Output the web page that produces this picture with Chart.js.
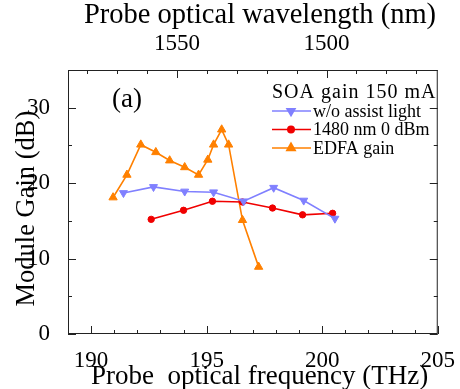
<!DOCTYPE html>
<html>
<head>
<meta charset="utf-8">
<script src="https://cdn.jsdelivr.net/npm/chart.js@4/dist/chart.umd.min.js"></script>
<style>
  html, body { margin: 0; padding: 0; background: #fff; }
  #wrap { width: 460px; height: 389px; }
</style>
</head>
<body>
<div id="wrap"><canvas id="c" width="460" height="389"></canvas></div>
<script>
// frequency (THz) / gain (dB)
const blueX = [191.4, 192.7, 194.05, 195.3, 196.6, 197.9, 199.2, 200.55];
const blueY = [18.7, 19.5, 18.9, 18.8, 17.6, 19.4, 17.7, 15.3];
const redX = [192.6, 194.0, 195.25, 196.55, 197.85, 199.15, 200.45];
const redY = [15.2, 16.4, 17.6, 17.5, 16.7, 15.8, 16.0];
const orangeX = [190.95, 191.55, 192.15, 192.8, 193.4, 194.05, 194.65, 195.05, 195.3, 195.65, 195.95, 196.55, 197.25];
const orangeY = [18.1, 21.1, 25.1, 24.1, 23.0, 22.1, 21.1, 23.1, 25.1, 27.1, 25.1, 15.1, 8.9];

const seriesNames = ['w/o assist light', '1480 nm 0 dBm', 'EDFA gain'];
const legendTitle = 'SOA gain 150 mA';
const panelLabel = '(a)';

const freqRange = [189, 205];
const wavelengthRange = [1462.8, 1586.5];
const gainRange = [0, 35];

const FONT = '"Liberation Serif", "Times New Roman", serif';

const pts = (xs, ys) => xs.map((x, i) => ({ x: x, y: ys[i] }));

// inward tick marks + frame
const frameTicks = {
  id: 'frameTicks',
  afterDraw(chart) {
    const ctx = chart.ctx;
    const a = chart.chartArea;
    const sx = chart.scales.x, st = chart.scales.xTop, sy = chart.scales.y;
    ctx.save();
    ctx.strokeStyle = '#222';
    ctx.lineWidth = 1;
    ctx.strokeRect(a.left + 0.5, a.top + 0.5, a.right - a.left - 1, a.bottom - a.top - 1);
    ctx.beginPath();
    sx.ticks.forEach(t => {
      const p = Math.round(sx.getPixelForValue(t.value)) + 0.5;
      const len = t.value % 5 === 0 ? 8 : 4;
      ctx.moveTo(p, a.bottom);
      ctx.lineTo(p, a.bottom - len);
    });
    st.ticks.forEach(t => {
      const p = Math.round(st.getPixelForValue(t.value)) + 0.5;
      const len = t.value % 50 === 0 ? 8 : 4;
      ctx.moveTo(p, a.top);
      ctx.lineTo(p, a.top + len);
    });
    sy.ticks.forEach(t => {
      const p = Math.round(sy.getPixelForValue(t.value)) + 0.5;
      const len = t.value % 10 === 0 ? 8 : 4;
      ctx.moveTo(a.left, p);
      ctx.lineTo(a.left + len, p);
      ctx.moveTo(a.right, p);
      ctx.lineTo(a.right - len, p);
    });
    ctx.stroke();
    ctx.restore();
  }
};

// legend inside the plot, drawn from the dataset styles
const innerLegend = {
  id: 'innerLegend',
  afterDraw(chart) {
    const ctx = chart.ctx;
    ctx.save();
    ctx.fillStyle = '#000';
    ctx.textBaseline = 'middle';
    ctx.font = '27px ' + FONT;
    ctx.fillText(panelLabel, 112, 100);

    ctx.font = '20px ' + FONT;
    ctx.letterSpacing = '1px';
    ctx.fillText(legendTitle, 272, 93);
    ctx.letterSpacing = '0px';
    ctx.font = '18px ' + FONT;
    chart.data.datasets.forEach((ds, i) => {
      const y = 111 + i * 18.5;
      ctx.strokeStyle = ds.borderColor;
      ctx.lineWidth = ds.borderWidth;
      ctx.beginPath();
      ctx.moveTo(272, y);
      ctx.lineTo(311, y);
      ctx.stroke();
      ctx.fillStyle = ds.pointBackgroundColor;
      ctx.strokeStyle = ds.pointBorderColor;
      Chart.helpers.drawPoint(ctx, {
        pointStyle: ds.pointStyle,
        radius: ds.pointRadius,
        rotation: ds.pointRotation || 0,
        borderWidth: 1
      }, 291, y);
      ctx.fillStyle = '#000';
      ctx.fillText(ds.label, 313, y + 1);
    });
    ctx.restore();
  }
};

new Chart(document.getElementById('c'), {
  type: 'line',
  data: {
    datasets: [
      {
        label: seriesNames[0],
        data: pts(blueX, blueY),
        borderColor: '#8080ff',
        borderWidth: 1.6,
        pointStyle: 'triangle',
        pointRotation: 180,
        pointRadius: 4.6,
        pointBackgroundColor: '#8080ff',
        pointBorderColor: '#8080ff',
        pointBorderWidth: 1
      },
      {
        label: seriesNames[1],
        data: pts(redX, redY),
        borderColor: '#f00000',
        borderWidth: 1.6,
        pointStyle: 'circle',
        pointRadius: 3.2,
        pointBackgroundColor: '#f00000',
        pointBorderColor: '#f00000',
        pointBorderWidth: 1
      },
      {
        label: seriesNames[2],
        data: pts(orangeX, orangeY),
        borderColor: '#ff8000',
        borderWidth: 1.6,
        pointStyle: 'triangle',
        pointRadius: 4.8,
        pointBackgroundColor: '#ff8000',
        pointBorderColor: '#ff8000',
        pointBorderWidth: 1
      }
    ]
  },
  options: {
    responsive: false,
    animation: false,
    layout: { padding: { right: 22 } },
    plugins: {
      legend: { display: false },
      tooltip: { enabled: false }
    },
    scales: {
      x: {
        type: 'linear',
        position: 'bottom',
        min: freqRange[0],
        max: freqRange[1],
        grid: { display: false },
        border: { display: false },
        ticks: {
          stepSize: 1,
          autoSkip: false,
          maxRotation: 0,
          padding: 5,
          color: '#000',
          font: { family: FONT, size: 23 },
          callback: v => (v % 5 === 0 ? v : '')
        },
        title: {
          display: true,
          text: '  Probe  optical frequency (THz)',
          color: '#000',
          font: { family: FONT, size: 27, lineHeight: 0.9 },
          padding: 0
        },
        afterFit: s => { s.height = 55; }
      },
      xTop: {
        type: 'linear',
        position: 'top',
        display: true,
        reverse: true,
        min: wavelengthRange[0],
        max: wavelengthRange[1],
        grid: { display: false },
        border: { display: false },
        ticks: {
          stepSize: 10,
          includeBounds: false,
          autoSkip: false,
          maxRotation: 0,
          padding: 4,
          color: '#000',
          font: { family: FONT, size: 23 },
          callback: v => (v % 50 === 0 ? v : '')
        },
        title: {
          display: true,
          text: '  Probe optical wavelength (nm)',
          color: '#000',
          font: { family: FONT, size: 28.5, lineHeight: 1.1 },
          padding: 0
        },
        afterFit: s => { s.height = 70; }
      },
      y: {
        type: 'linear',
        position: 'left',
        min: gainRange[0],
        max: gainRange[1],
        grid: { display: false },
        border: { display: false },
        ticks: {
          stepSize: 5,
          autoSkip: false,
          padding: 10,
          color: '#000',
          font: { family: FONT, size: 23 },
          callback: v => (v % 10 === 0 ? v : '')
        },
        title: {
          display: true,
          text: 'Module Gain (dB)  ',
          color: '#000',
          font: { family: FONT, size: 26.5, lineHeight: 1.2 },
          padding: { top: 11, bottom: 0 }
        },
        afterFit: s => { s.width = 68; }
      }
    }
  },
  plugins: [frameTicks, innerLegend]
});
</script>
</body>
</html>
